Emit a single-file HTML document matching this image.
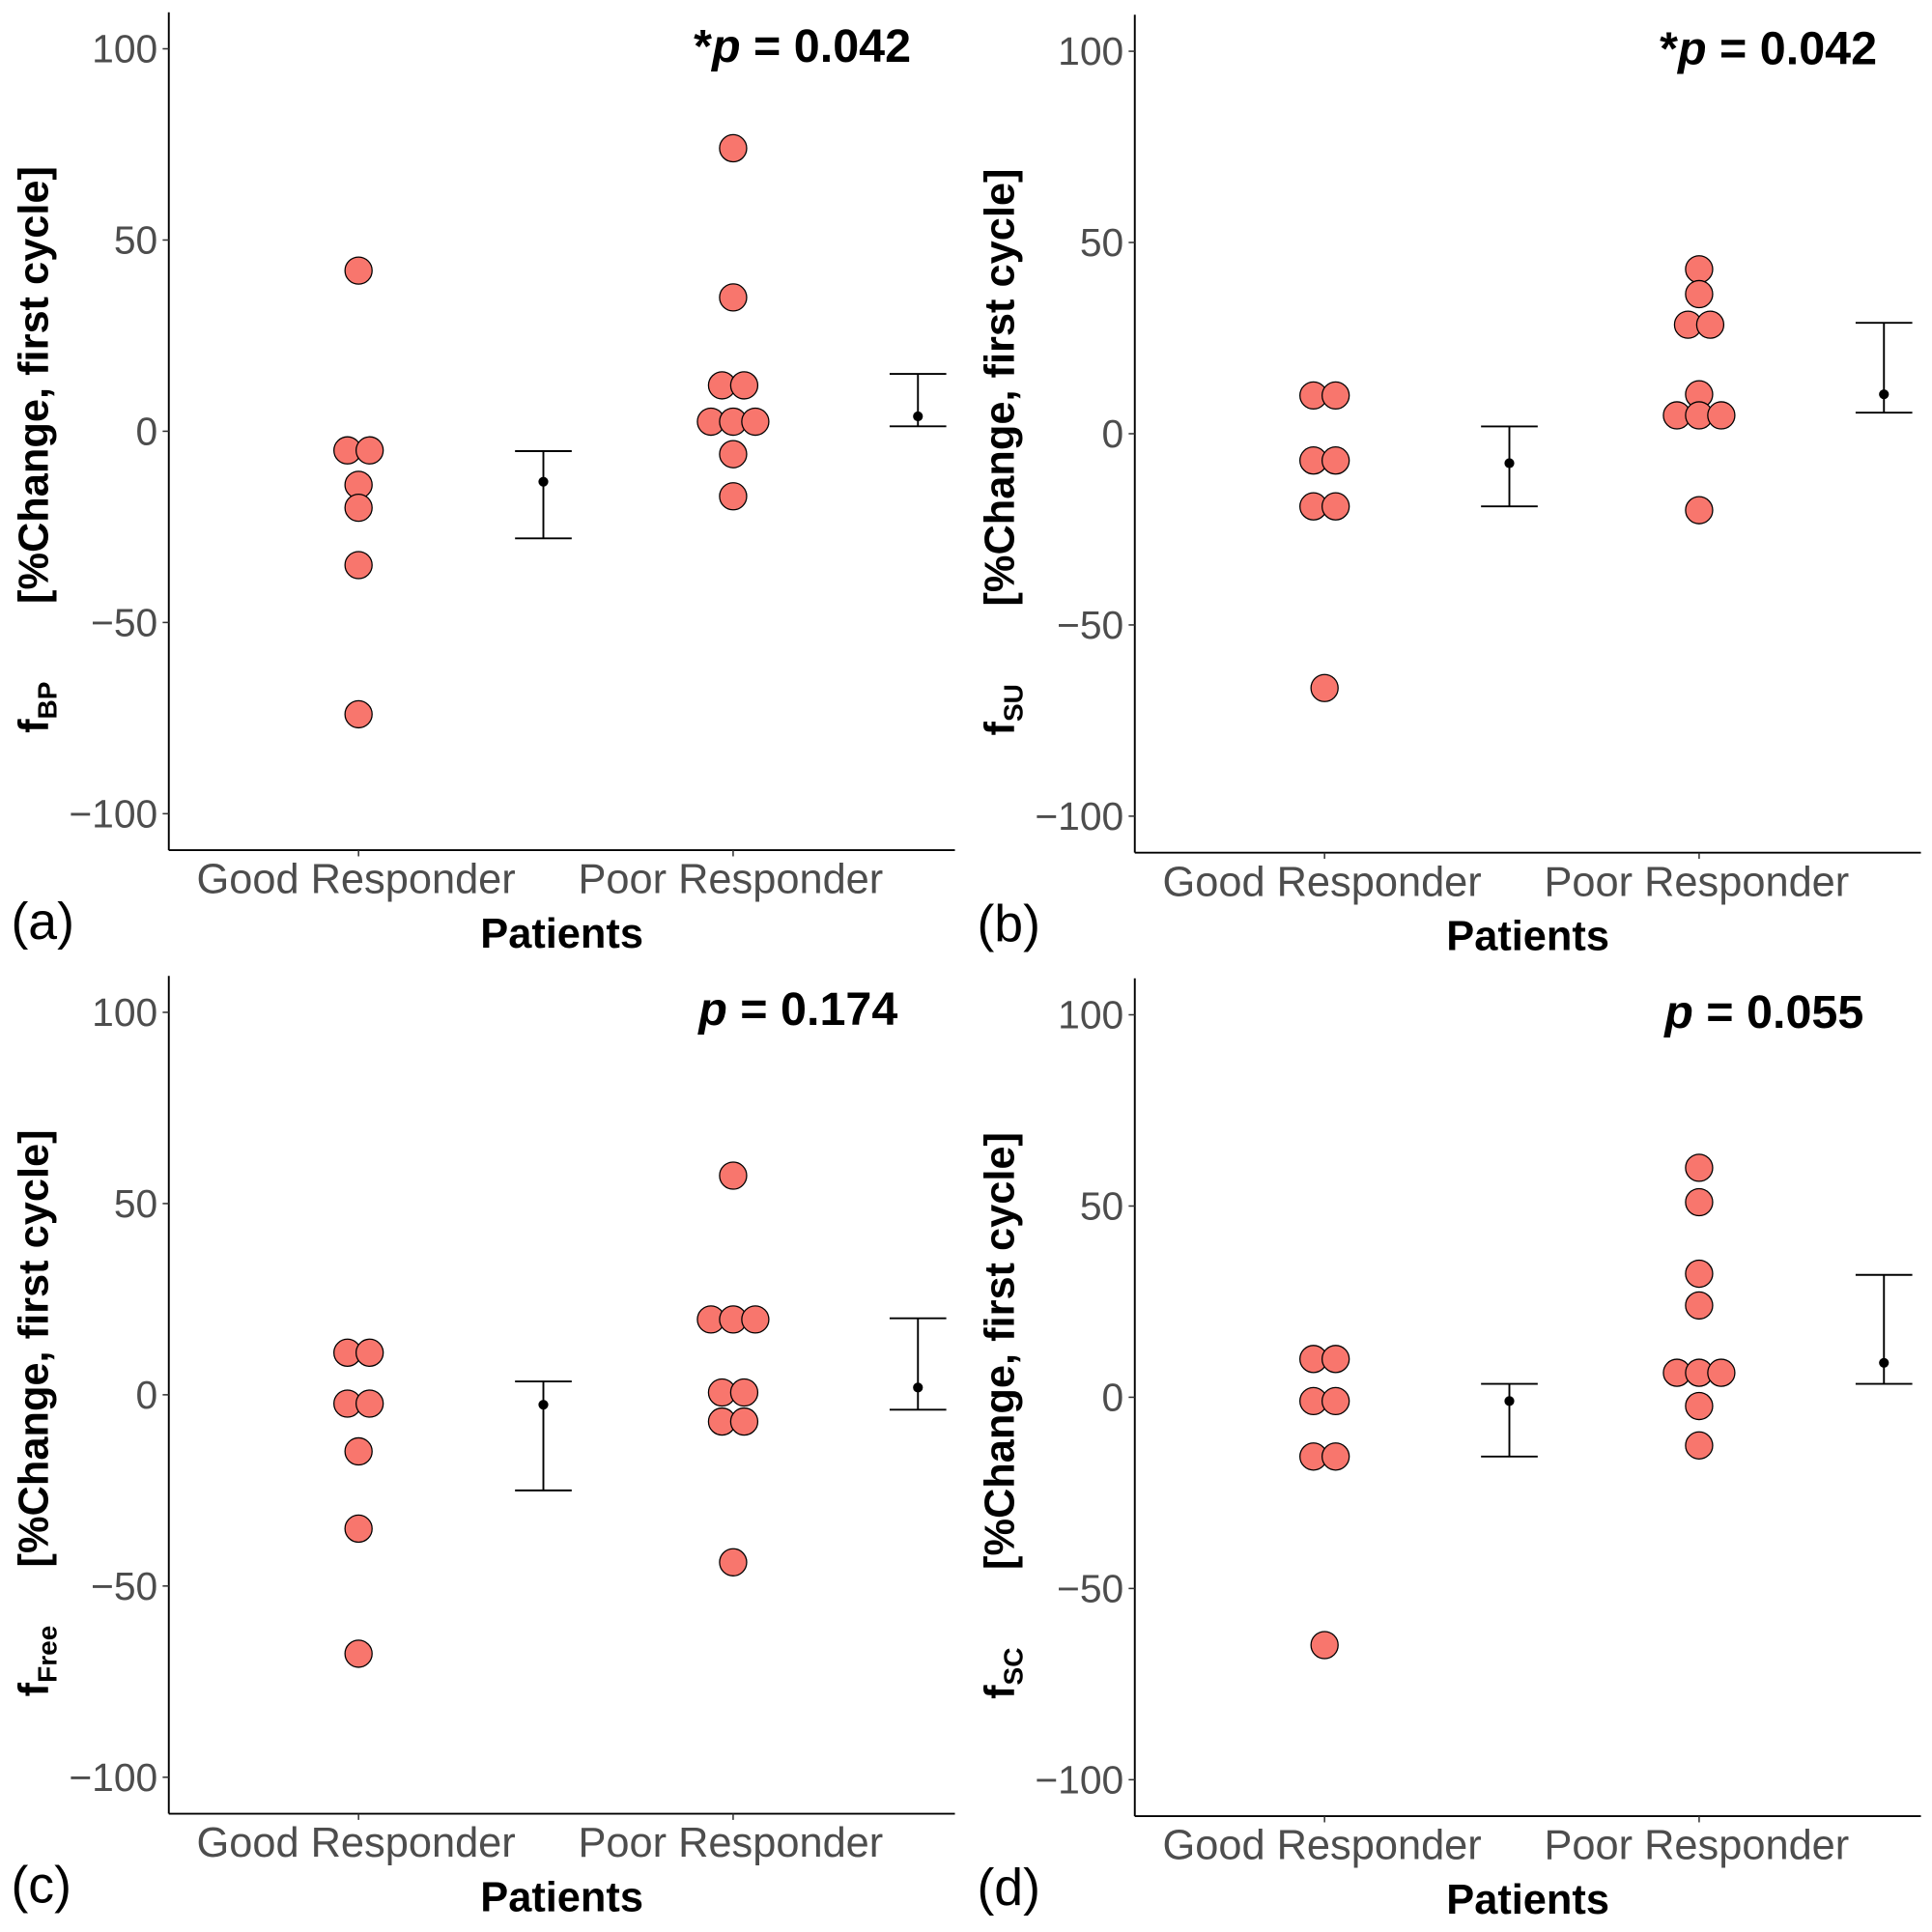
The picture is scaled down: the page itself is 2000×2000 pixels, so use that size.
<!DOCTYPE html>
<html><head><meta charset="utf-8"><style>
html,body{margin:0;padding:0;background:#fff;}
svg{display:block;font-family:"Liberation Sans",Arial,sans-serif;}
</style></head><body>
<svg id="chart" width="2000" height="2000" viewBox="0 0 1568 1568" xmlns="http://www.w3.org/2000/svg"></svg>
<script>
const panelLetters = ["(a)","(b)","(c)","(d)"];
const panelSubs = ["BP","SU","Free","SC"];
const pLabels = ["*p = 0.042","*p = 0.042","p = 0.174","p = 0.055"];
const categories = ["Good Responder","Poor Responder"];
const yTicks = [100,50,0,-50,-100];
const yTickLabels = ["100","50","0","\u221250","\u2212100"];
// point values per panel
const goodA = [42,-5,-5,-14,-20,-35,-74];
const poorA = [74,35,12,12,2.5,2.5,2.5,-6,-17];
const goodB = [10,10,-7,-7,-19,-19,-66.5];
const poorB = [43,36.5,28.5,28.5,10.3,4.8,4.8,4.8,-20];
const goodC = [11,11,-2.3,-2.3,-14.8,-35,-67.7];
const poorC = [57.3,19.7,19.7,19.7,0.6,0.6,-7,-7,-43.8];
const goodD = [10,10,-1,-1,-15.5,-15.5,-64.8];
const poorD = [60,51,32.3,24,6.4,6.4,6.4,-2.3,-12.6];
// error bars: [mean, upper, lower]
const errGoodA = [-13.2,-5.2,-28]; const errPoorA = [3.9,15,1.3];
const errGoodB = [-7.7,1.9,-19];  const errPoorB = [10.3,29,5.5];
const errGoodC = [-2.6,3.5,-25];  const errPoorC = [1.9,20,-3.9];
const errGoodD = [-1,3.5,-15.5];  const errPoorD = [9,32,3.5];

const goods=[goodA,goodB,goodC,goodD], poors=[poorA,poorB,poorC,poorD];
const errG=[errGoodA,errGoodB,errGoodC,errGoodD], errP=[errPoorA,errPoorB,errPoorC,errPoorD];
const offs=[[0,0],[784,2],[0,782],[784,784]];
const NS="http://www.w3.org/2000/svg";
const svg=document.getElementById('chart');
function mk(tag,attrs,parent,txt){const e=document.createElementNS(NS,tag);for(const k in attrs)e.setAttribute(k,attrs[k]);if(txt!==undefined)e.textContent=txt;parent.appendChild(e);return e;}

function dodge(vals){
  const res=[];const counts={};vals.forEach(v=>counts[v]=(counts[v]||0)+1);
  const seen={};
  vals.forEach(v=>{const n=counts[v];const i=seen[v]||0;seen[v]=i+1;res.push((i-(n-1)/2)*18);});
  return res;
}

for(let p=0;p<4;p++){
  const [dx,dy]=offs[p];
  const g=mk('g',{transform:`translate(${dx},${dy})`},svg);
  
  
  const yS=v=>350-v*3.104;
  const xCat=[291,595], xErr=[441,745];
  const ya=mk('line',{x1:137,y1:10,x2:137,y2:690,stroke:'#000','stroke-width':1.5},g);
  
  const xa=mk('line',{x1:137,y1:690,x2:775,y2:690,stroke:'#000','stroke-width':1.5},g);
  
  yTicks.forEach((t,i)=>{
    mk('line',{x1:132,y1:yS(t),x2:137,y2:yS(t),stroke:'#333','stroke-width':1.2},g);
    const tl=mk('text',{x:128,y:yS(t)+11,'text-anchor':'end','font-size':32,fill:'#4d4d4d'},g,yTickLabels[i]);
    
  });
  categories.forEach((c,i)=>{
    mk('line',{x1:xCat[i],y1:690,x2:xCat[i],y2:695,stroke:'#333','stroke-width':1.2},g);
    const cl=mk('text',{x:xCat[i]-2,y:725,'text-anchor':'middle','font-size':34,fill:'#4d4d4d'},g,c);
    
  });
  const xt=mk('text',{x:456,y:769,'text-anchor':'middle','font-size':34,'font-weight':'bold',fill:'#000'},g,'Patients');
  
  const pl=mk('text',{x:9,y:762,'font-size':42,fill:'#000'},g,panelLetters[p]);
  
  const pt=mk('text',{x:(pLabels[p][0]==='*'?563:567),y:50,'font-size':38,'font-weight':'bold',fill:'#000'},g);
  
  const star=pLabels[p][0]==='*';
  if(star) mk('tspan',{},pt,'*');
  mk('tspan',{'font-style':'italic'},pt,'p');
  mk('tspan',{},pt,pLabels[p].replace(/^\*?p/,''));
  const yt=mk('text',{transform:'translate(39,595) rotate(-90)','font-size':34,'font-weight':'bold',fill:'#000'},g);
  
  mk('tspan',{},yt,'f');
  mk('tspan',{'font-size':22,dy:7},yt,panelSubs[p]);
  const yt2=mk('text',{transform:'translate(39,490) rotate(-90)','font-size':34,'font-weight':'bold',fill:'#000'},g,'[%Change, first cycle]');
  
  [goods[p],poors[p]].forEach((vals,ci)=>{
    const d=dodge(vals);
    vals.forEach((v,i)=>{
      const c=mk('circle',{cx:xCat[ci]+d[i],cy:yS(v),r:11,fill:'#F8766D',stroke:'#000','stroke-width':1},g);
      
      
    });
  });
  [errG[p],errP[p]].forEach((e,ci)=>{
    const x=xErr[ci];
    const eg=mk('g',{stroke:'#000','stroke-width':1.5},g);
    
    
    mk('line',{x1:x,y1:yS(e[1]),x2:x,y2:yS(e[2])},eg);
    mk('line',{x1:x-23,y1:yS(e[1]),x2:x+23,y2:yS(e[1])},eg);
    mk('line',{x1:x-23,y1:yS(e[2]),x2:x+23,y2:yS(e[2])},eg);
    mk('circle',{cx:x,cy:yS(e[0]),r:4,fill:'#000',stroke:'none'},eg);
  });
}
</script>
</body></html>
